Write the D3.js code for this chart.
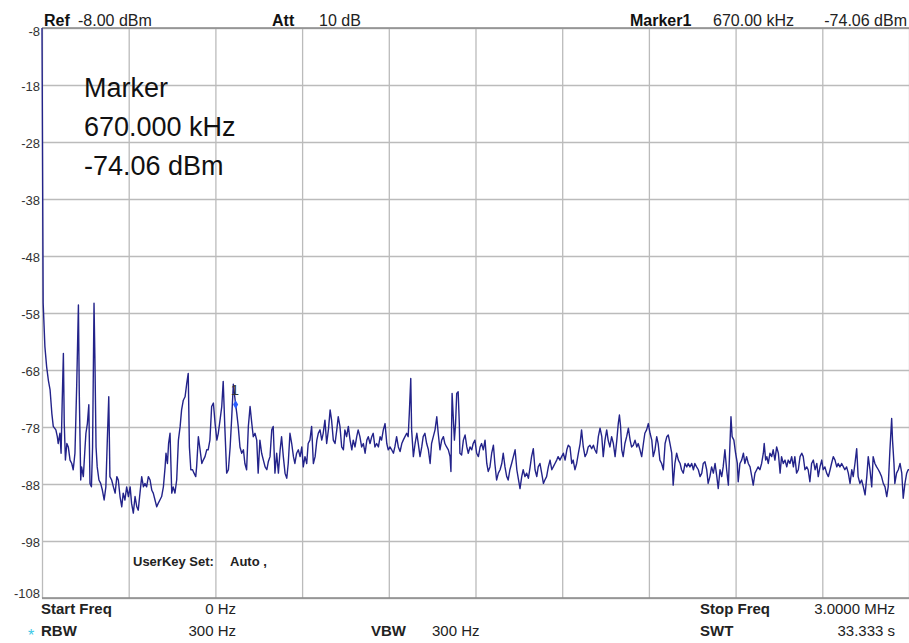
<!DOCTYPE html>
<meta charset="utf-8">
<style>
body { margin: 0; background: #fff; }
svg { display: block; font-family: "Liberation Sans", Arial, sans-serif; }
.grid line { stroke: #bbb; stroke-width: 1.3px; }
.grid .domain { display: none; }
.border { stroke: #8a8a8a; stroke-width: 1.3px; }
.ylab { font-size: 13px; fill: #333; }
.trace { fill: none; stroke: #23238a; stroke-width: 1.4px; stroke-linejoin: round; }
.hd { font-size: 16px; fill: #222; }
.b { font-weight: bold; fill: #111; }
.big { font-size: 27px; fill: #111; }
.ft { font-size: 15px; fill: #222; }
</style>
<body>
<script src="https://cdn.jsdelivr.net/npm/d3@7/dist/d3.min.js"></script>
<script>
var traceLow = [[0,-8],[4,-56.2],[10,-63.9],[16,-67.4],[22,-69.8],[28,-71.5],[34,-75.6],[39,-77.9],[48,-78.5],[53,-79.7],[56,-80.9],[62,-79.1],[66,-82.6],[70,-73.3],[74,-65.1],[77,-77.4],[81,-83.8],[86,-80.9],[91,-81.5],[97,-83.8],[103,-84.4],[108,-85.5],[114,-82.6],[120,-70.9],[126,-56.6],[129,-72.1],[134,-87.3],[137,-85],[143,-86.7],[149,-81.5],[152,-79.1],[157,-77.4],[162,-74.1],[166,-87.9],[171,-88.5],[175,-81.5],[180,-56.3],[183,-65.7],[187,-81.5],[191,-85],[197,-87.3],[203,-87.9],[209,-89.1],[215,-90.8],[221,-88.5],[226,-80.3],[231,-72.7],[235,-86.7],[241,-87.3],[247,-88.5],[253,-89.6],[259,-86.7],[264,-87.3],[270,-90.2],[276,-92],[281,-89.6],[287,-90.8],[293,-88.5],[299,-90.2],[305,-88.5],[310,-91.4],[316,-93.1],[322,-90.2],[328,-92],[333,-92.6],[339,-89.6],[345,-86.7],[351,-88.5],[356,-87.9],[362,-88.5],[368,-86.7],[374,-87.3],[380,-89.1],[385,-89.6],[391,-90.8],[397,-92],[402,-91.4],[408,-90.8],[414,-90.2],[420,-88.5],[426,-85],[429,-82.6],[434,-84.4],[438,-80.9],[443,-79.1],[449,-89.6],[454,-88.5],[460,-89.6],[466,-87.3],[472,-80.3],[478,-77.9],[483,-75],[489,-73.3],[495,-72.7],[501,-70.3],[506,-68.6],[510,-81.5],[515,-85.5],[521,-85.5],[526,-86.1],[532,-86.7],[535,-85],[541,-79.7],[547,-82],[553,-84.4],[558,-83.8],[564,-83.2],[570,-82],[575,-82],[581,-80.3],[587,-74.4],[593,-73.8],[599,-77.4],[605,-80.3],[610,-79.1],[616,-76.8],[622,-74.4],[627,-70],[633,-78.5],[639,-86.1],[645,-85.5],[651,-81.5],[656,-76.8],[662,-70.5],[670,-74.06],[674,-75.6],[679,-77.9],[685,-81.5],[691,-82.6],[697,-82],[702,-84.4],[708,-85.5],[714,-77.9],[720,-74.4],[726,-77.4],[731,-79.7],[737,-79.1],[743,-80.3],[748,-86.1],[754,-80.3],[760,-82.6],[766,-83.8],[772,-85],[778,-85.5],[783,-84.1],[789,-83.2],[795,-78.5],[800,-77.9],[806,-86.1],[812,-82.6],[818,-86.1],[824,-82],[829,-79.7],[835,-83.2],[841,-86.1],[847,-87],[852,-84.4],[858,-79.1],[864,-80.9],[870,-83.2],[875,-84.4],[881,-82.6],[887,-82],[893,-83.2],[899,-81.5],[904,-85],[910,-83.2],[916,-84.4],[921,-80.9],[927,-80.3],[933,-77.9],[939,-84.4],[945,-83.2],[951,-80.3],[956,-79.1],[962,-78.5],[968,-80.3],[973,-79.1],[979,-76.8],[985,-80.9],[991,-78.5],[997,-75]];

var traceMid = [[1002,-76.8],[1008,-80.3],[1014,-80.9],[1020,-78.5],[1025,-76.2],[1031,-77.9],[1037,-81.5],[1043,-82],[1048,-78.5],[1054,-79.7],[1060,-77.9],[1066,-80.3],[1072,-82],[1077,-80.3],[1083,-81.5],[1089,-79.7],[1094,-78.5],[1100,-79.7],[1106,-81.5],[1112,-80.9],[1118,-82.6],[1124,-80.3],[1129,-79.7],[1135,-80.9],[1141,-79.7],[1146,-79.1],[1152,-81.5],[1158,-80.9],[1164,-81.5],[1170,-79.7],[1175,-80.3],[1181,-78.5],[1187,-77.4],[1193,-80.9],[1198,-82],[1204,-81.5],[1210,-82],[1216,-82.6],[1221,-81.5],[1227,-79.7],[1233,-81.5],[1239,-82.3],[1245,-80.9],[1250,-80.3],[1256,-79.7],[1262,-79.1],[1267,-79.7],[1271,-75.6],[1276,-69.5],[1279,-78.5],[1285,-83.2],[1291,-80.9],[1297,-79.1],[1302,-80.9],[1308,-83.2],[1314,-81.5],[1319,-79.7],[1325,-79.1],[1331,-80.9],[1337,-82],[1343,-84.4],[1348,-80.9],[1354,-79.7],[1360,-78.5],[1366,-76.2],[1371,-79.1],[1377,-82],[1383,-80.3],[1389,-79.7],[1394,-80.9],[1400,-81.5],[1406,-82],[1412,-83.2],[1415,-85.8],[1419,-72.1],[1423,-76.2],[1427,-80.3],[1431,-77.4],[1435,-72.1],[1440,-71.8],[1444,-77.4],[1446,-82.6],[1452,-82.9],[1458,-80.3],[1464,-79.4],[1470,-81.5],[1475,-82.6],[1481,-81.5],[1487,-82],[1492,-80.9],[1498,-80.3],[1504,-82.6],[1510,-83.2],[1516,-81.5],[1521,-80.9],[1527,-82],[1533,-80.3],[1539,-84.4],[1544,-85.8],[1550,-85],[1556,-82.6],[1562,-81.2],[1567,-84.4],[1573,-87.3],[1579,-86.1],[1585,-85.5],[1591,-84.4],[1596,-82.6],[1602,-85],[1608,-86.7],[1613,-87.3],[1619,-85.5],[1625,-84.4],[1631,-83.2],[1637,-82],[1643,-85.5],[1648,-87],[1654,-88.8],[1660,-86.7],[1665,-85.5],[1671,-86.7],[1677,-86.1],[1683,-87],[1689,-85],[1694,-83.2],[1700,-81.8],[1706,-85.5],[1712,-86.7],[1717,-85],[1723,-84.4],[1729,-86.1],[1735,-87.9],[1740,-87.3],[1746,-86.7],[1752,-85],[1758,-83.8],[1764,-85.5],[1769,-85],[1775,-84.4],[1781,-83.8],[1786,-83.2],[1792,-83.8],[1798,-83.2],[1804,-82.6],[1810,-83.8],[1816,-82],[1821,-81.2],[1827,-81.5],[1833,-84.4],[1838,-83.8],[1844,-85.5],[1850,-84.4],[1856,-82.6],[1862,-80.9],[1867,-78.5],[1873,-81.5],[1879,-83.2],[1885,-82.6],[1890,-81.5],[1896,-81.2],[1902,-81.8],[1908,-81.2],[1913,-82],[1919,-82.6],[1925,-79.7],[1931,-78.2],[1937,-79.7],[1942,-83.2],[1948,-80.3],[1954,-78.5],[1959,-80.3],[1965,-81.5],[1971,-79.7],[1977,-80.9],[1983,-83.2],[1989,-80.3],[1994,-77.4]];

var traceHigh = [[1998,-75.9],[2002,-77.9],[2006,-82],[2011,-83.2],[2017,-80.9],[2023,-79.7],[2029,-78.2],[2035,-80.3],[2040,-81.5],[2046,-81.2],[2052,-80.3],[2058,-81.5],[2063,-80.9],[2069,-82],[2075,-83.2],[2081,-80.9],[2086,-79.1],[2092,-78.5],[2098,-77.4],[2104,-79.1],[2110,-80.3],[2115,-83.2],[2121,-82],[2127,-79.7],[2132,-80.9],[2138,-83.8],[2144,-84.4],[2150,-85.5],[2156,-80.9],[2162,-79.7],[2167,-79.4],[2173,-80.9],[2179,-82.6],[2184,-88.2],[2190,-84.4],[2196,-82.6],[2202,-83.8],[2208,-84.4],[2213,-85.5],[2219,-86.1],[2225,-84.4],[2231,-85],[2236,-84.4],[2242,-85],[2248,-84.4],[2254,-85.5],[2259,-84.4],[2265,-85],[2271,-85.5],[2277,-86.7],[2283,-86.1],[2288,-84.4],[2294,-84.1],[2300,-85.5],[2305,-87.9],[2311,-86.7],[2317,-85],[2323,-86.1],[2329,-84.4],[2335,-86.7],[2340,-88.8],[2346,-85.5],[2352,-86.7],[2357,-85],[2363,-82],[2369,-85.5],[2375,-88.2],[2381,-80.3],[2384,-76.2],[2388,-79.7],[2394,-80.3],[2400,-82.6],[2406,-84.4],[2409,-87.6],[2415,-84.4],[2421,-83.8],[2427,-82.6],[2432,-84.4],[2438,-83.2],[2444,-84.4],[2450,-85],[2456,-86.7],[2461,-88.2],[2467,-86.1],[2473,-85.5],[2478,-85],[2484,-85.5],[2490,-84.4],[2496,-82.6],[2499,-80.9],[2504,-83.8],[2508,-83.2],[2513,-84.4],[2519,-82.6],[2525,-83.2],[2530,-82],[2536,-83.8],[2542,-81.5],[2548,-82.6],[2554,-86.1],[2559,-83.2],[2565,-84.4],[2571,-83.8],[2577,-85],[2582,-83.8],[2588,-84.4],[2594,-83.2],[2600,-85],[2605,-83.2],[2611,-86.1],[2617,-85.5],[2623,-83.2],[2629,-82.6],[2634,-83.2],[2640,-85.5],[2646,-85],[2651,-85.5],[2657,-87.6],[2663,-84.4],[2669,-83.8],[2675,-85.5],[2681,-84.4],[2686,-86.7],[2692,-85],[2698,-83.8],[2703,-85.5],[2709,-85],[2715,-86.1],[2721,-86.7],[2727,-85.5],[2732,-84.4],[2738,-83.2],[2744,-83.8],[2750,-85],[2755,-84.4],[2761,-85],[2767,-84.4],[2773,-85],[2778,-85.5],[2784,-85],[2790,-86.1],[2796,-87.9],[2802,-85.5],[2807,-86.7],[2813,-84.4],[2819,-81.8],[2824,-86.7],[2830,-87.9],[2836,-87.3],[2842,-88.5],[2848,-89.9],[2854,-86.7],[2859,-83.2],[2865,-85.5],[2871,-88.5],[2876,-83.2],[2882,-84.4],[2888,-85],[2894,-85.5],[2900,-86.1],[2905,-86.7],[2911,-87.9],[2917,-88.5],[2923,-90.2],[2928,-88.5],[2934,-82],[2940,-76.5],[2943,-80.3],[2948,-84.4],[2951,-87.9],[2957,-86.1],[2963,-85.5],[2969,-84.4],[2975,-86.1],[2980,-90.5],[2986,-87.9],[2992,-86.1],[2997,-85.5],[3000,-85.5]];

var yTicks = [-8, -18, -28, -38, -48, -58, -68, -78, -88, -98, -108];
var xGridKHz = [0, 300, 600, 900, 1200, 1500, 1800, 2100, 2400, 2700, 3000];
var marker = { kHz: 670, dBm: -74.06 };
var markerLines = ["Marker", "670.000 kHz", "-74.06 dBm"];

var width = 909, height = 643;
var plotL = 42, plotR = 909, plotT = 28, plotB = 598;

var svg = d3.select("body").append("svg")
    .attr("width", width).attr("height", height);

var x = d3.scaleLinear().domain([0, 3000]).range([plotL, plotR]);
var y = d3.scaleLinear().domain([-108, -8]).range([plotB, plotT]);

// vertical grid
svg.append("g").attr("class", "grid")
    .attr("transform", "translate(0," + plotB + ")")
    .call(d3.axisBottom(x).tickValues(xGridKHz).tickSize(-(plotB - plotT)).tickFormat(""));

// horizontal grid + level labels (plain hyphen like the analyzer)
var yAxis = svg.append("g").attr("class", "grid")
    .attr("transform", "translate(" + plotL + ",0)")
    .call(d3.axisLeft(y).tickValues(yTicks).tickSize(-(plotR - plotL)).tickPadding(2)
      .tickFormat(function(d) { return String(d); }));
yAxis.selectAll("text").attr("class", "ylab")
    .attr("dy", function(d) { return d == -8 ? "0.6em" : d == -108 ? "-0.05em" : "0.45em"; });

svg.append("line").attr("class", "border").attr("x1", plotL).attr("x2", plotR).attr("y1", plotT).attr("y2", plotT);
svg.append("line").attr("class", "border").attr("x1", plotL).attr("x2", plotR).attr("y1", plotB).attr("y2", plotB);

var trace = traceLow.concat(traceMid, traceHigh);
var line = d3.line().x(function(d) { return x(d[0]); }).y(function(d) { return y(d[1]); });
svg.append("path").datum(trace).attr("class", "trace").attr("d", line);

// marker 1
svg.append("path")
    .attr("d", d3.symbol().type(d3.symbolDiamond).size(22))
    .attr("transform", "translate(" + x(marker.kHz) + "," + y(marker.dBm) + ")")
    .attr("fill", "#2a5cff");
svg.append("text").attr("x", x(marker.kHz) - 5).attr("y", y(marker.dBm) - 10)
    .style("font-size", "15px").style("fill", "#333").text("1");

svg.selectAll("text.big").data(markerLines).enter().append("text")
    .attr("class", "big").attr("x", 84).attr("y", function(d, i) { return 97 + i * 39; })
    .text(function(d) { return d; });

// header
function label(txt, xx, yy, cls, anchor) {
  return svg.append("text").attr("x", xx).attr("y", yy).attr("class", cls)
      .attr("text-anchor", anchor || "start").text(txt);
}
label("Ref", 44, 26, "hd b");
label("-8.00 dBm", 78, 26, "hd");
label("Att", 272, 26, "hd b");
label("10 dB", 319, 26, "hd");
label("Marker1", 630, 26, "hd b");
label("670.00 kHz", 713, 26, "hd");
label("-74.06 dBm", 907, 26, "hd", "end");

label("UserKey Set:", 133, 566, "ft b").style("font-size", "13px");
label("Auto ,", 230, 566, "ft b").style("font-size", "13px");

// footer
label("Start Freq", 41, 614, "ft b");
label("0 Hz", 236, 614, "ft", "end");
label("Stop Freq", 700, 614, "ft b");
label("3.0000 MHz", 895, 614, "ft", "end");
label("*", 28, 641, "ft").style("fill", "#3cc8e6").style("font-size", "16px");
label("RBW", 41, 636, "ft b");
label("300 Hz", 236, 636, "ft", "end");
label("VBW", 371, 636, "ft b");
label("300 Hz", 432, 636, "ft");
label("SWT", 700, 636, "ft b");
label("33.333 s", 895, 636, "ft", "end");
</script>
</body>
